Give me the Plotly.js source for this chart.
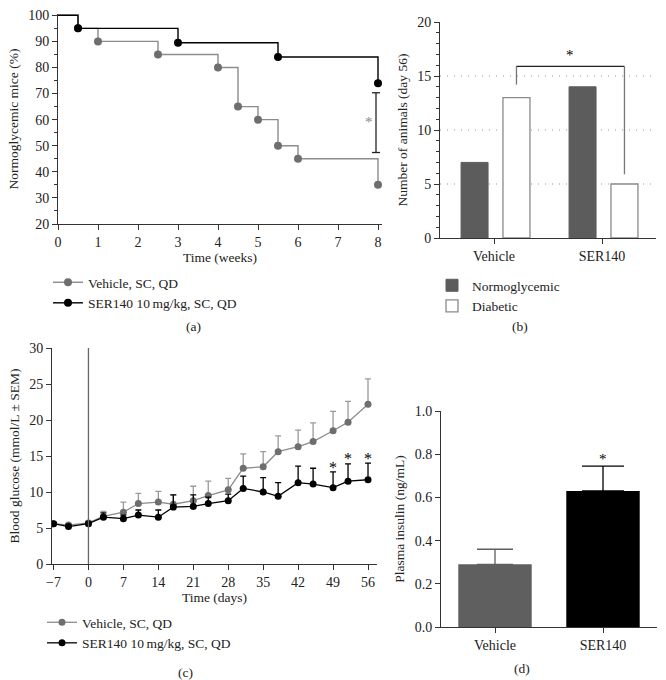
<!DOCTYPE html>
<html>
<head>
<meta charset="utf-8">
<script src="https://cdn.plot.ly/plotly-3.0.1.min.js"></script>
<style>html,body{margin:0;padding:0;background:#fff}</style>
</head>
<body>
<div id="chart" style="width:666px;height:680px"></div>
<script>
// ---- Panel (a): Kaplan-Meier style normoglycemia (listed from week 8 back to week 0) ----
const kmWeeksVehicle = [8, 6, 5.5, 5, 4.5, 4, 2.5, 1, 0.5, 0];
const kmPctVehicle   = [35, 45, 50, 60, 65, 80, 85, 90, 95, 100];
const kmWeeksSER     = [8, 5.5, 3, 0.5, 0];
const kmPctSER       = [74, 84, 89.5, 95, 100];
const kmSigLow = 47.4, kmSigHigh = 70.3;

// ---- Panel (b): number of animals at day 56 ----
const groups = ['Vehicle', 'SER140'];
const normoglycemic = [7, 14];
const diabetic = [13, 5];

// ---- Panel (c): blood glucose ----
const days = [-7, -4, 0, 3, 7, 10, 14, 17, 21, 24, 28, 31, 35, 38, 42, 45, 49, 52, 56];
const vehGlucose = [5.6, 5.4, 5.7, 6.6, 7.2, 8.4, 8.6, 8.3, 8.8, 9.5, 10.3, 13.3, 13.5, 15.6, 16.3, 17.0, 18.5, 19.7, 22.2];
const vehSEM     = [0.2, 0.2, 0.3, 0.7, 1.4, 1.4, 1.5, 1.3, 2.0, 2.0, 1.6, 2.0, 2.1, 2.2, 2.3, 2.6, 2.7, 2.9, 3.5];
const serGlucose = [5.6, 5.2, 5.6, 6.5, 6.3, 6.8, 6.5, 7.9, 8.0, 8.4, 8.8, 10.5, 10.0, 9.4, 11.3, 11.1, 10.6, 11.5, 11.7];
const serSEM     = [0.2, 0.2, 0.2, 0.6, 0.5, 0.7, 1.0, 1.7, 1.6, 0.9, 0.9, 1.7, 2.0, 1.9, 2.3, 2.2, 2.2, 2.4, 2.3];
const sigDays = [49, 52, 56];
const sigStarY = [13.4, 14.7, 14.7];

// ---- Panel (d): plasma insulin ----
const insulin = [0.29, 0.63];
const insulinSEM = [0.07, 0.115];

const seriesNames = ['Vehicle, SC, QD', 'SER140 10\u2009mg/kg, SC, QD'];
const GREY_LINE = '#8c8c8c', GREY_MARK = '#6e6e6e', BLACK = '#000000';
const TXT = '#222222';
const FONT = 'Liberation Serif, Times New Roman, serif';
const W = 666, H = 680;
const px = v => v / W;
const py = v => 1 - v / H;

// hide the marker at the starting point (week 0, 100%): it becomes a flat dash lying on the line
const kmSymbols = arr => arr.map((w, i) => i === arr.length - 1 ? 'line-ew' : 'circle');

const traces = [];

// Panel a
traces.push({
  type: 'scatter', mode: 'lines+markers', x: kmWeeksVehicle, y: kmPctVehicle,
  line: {shape: 'vh', color: GREY_LINE, width: 1.4},
  marker: {color: GREY_MARK, size: 8, symbol: kmSymbols(kmWeeksVehicle), line: {width: 0}},
  name: seriesNames[0], xaxis: 'x', yaxis: 'y', legend: 'legend'
});
traces.push({
  type: 'scatter', mode: 'lines+markers', x: kmWeeksSER, y: kmPctSER,
  line: {shape: 'vh', color: BLACK, width: 1.4},
  marker: {color: BLACK, size: 8, symbol: kmSymbols(kmWeeksSER), line: {width: 0}},
  name: seriesNames[1], xaxis: 'x', yaxis: 'y', legend: 'legend'
});

// Panel b
traces.push({
  type: 'bar', x: groups, y: normoglycemic, name: 'Normoglycemic',
  width: 0.25, offset: -0.305,
  marker: {color: '#5c5c5c', line: {color: '#5c5c5c', width: 1}},
  xaxis: 'x2', yaxis: 'y2', legend: 'legend2'
});
traces.push({
  type: 'bar', x: groups, y: diabetic, name: 'Diabetic',
  width: 0.25, offset: 0.083,
  marker: {color: '#ffffff', line: {color: '#8a8a8a', width: 1.3}},
  xaxis: 'x2', yaxis: 'y2', legend: 'legend2'
});

// Panel c
traces.push({
  type: 'scatter', mode: 'lines+markers', x: days, y: vehGlucose,
  line: {color: GREY_LINE, width: 1.3},
  marker: {color: GREY_MARK, size: 7},
  error_y: {type: 'data', symmetric: false, array: vehSEM, arrayminus: vehSEM.map(() => 0), color: '#9a9a9a', thickness: 1.3, width: 3},
  name: seriesNames[0], xaxis: 'x3', yaxis: 'y3', legend: 'legend3'
});
traces.push({
  type: 'scatter', mode: 'lines+markers', x: days, y: serGlucose,
  line: {color: BLACK, width: 1.3},
  marker: {color: BLACK, size: 7},
  error_y: {type: 'data', symmetric: false, array: serSEM, arrayminus: serSEM.map(() => 0), color: BLACK, thickness: 1.3, width: 3},
  name: seriesNames[1], xaxis: 'x3', yaxis: 'y3', legend: 'legend3'
});

// Panel d
const insulinColors = ['#5f5f5f', '#000000'];
const insulinCapWidths = [18, 21];
groups.forEach((g, i) => {
  traces.push({
    type: 'bar', x: [g], y: [insulin[i]], width: 0.68,
    marker: {color: insulinColors[i]},
    error_y: {type: 'data', symmetric: false, array: [insulinSEM[i]], arrayminus: [0], color: insulinColors[i], thickness: 1.3, width: insulinCapWidths[i]},
    showlegend: false, xaxis: 'x4', yaxis: 'y4'
  });
});

const axisBase = {
  showline: true, linecolor: '#333', linewidth: 1, ticks: 'outside', ticklen: 5,
  tickcolor: '#333', tickwidth: 1, showgrid: false, zeroline: false,
  tickfont: {family: FONT, size: 14, color: TXT}
};
const titleFont = {family: FONT, size: 13.5, color: TXT};
const starFont = (sz, c) => ({family: FONT, size: sz, color: c || '#000'});
const caption = (x, y, t) => ({xref: 'paper', yref: 'paper', x: px(x), y: py(y), xanchor: 'center', yanchor: 'middle', text: t, showarrow: false, font: {family: FONT, size: 13.5, color: TXT}});

const layout = {
  width: W, height: H, margin: {l: 0, r: 0, t: 0, b: 0},
  paper_bgcolor: '#fff', plot_bgcolor: 'rgba(0,0,0,0)',
  font: {family: FONT, size: 13, color: TXT},
  barmode: 'overlay', hovermode: false,
  xaxis: Object.assign({}, axisBase, {
    domain: [px(58), px(382)], range: [0, 8.1], anchor: 'y',
    tickmode: 'linear', tick0: 0, dtick: 1,
    title: {text: 'Time (weeks)', font: titleFont, standoff: 3}
  }),
  yaxis: Object.assign({}, axisBase, {
    domain: [py(224), py(14)], range: [20, 100.5], anchor: 'x',
    tickmode: 'linear', tick0: 20, dtick: 10,
    minor: {dtick: 5, ticks: 'outside', ticklen: 3, tickcolor: '#333'},
    title: {text: 'Normoglycemic mice (%)', font: titleFont, standoff: 6}
  }),
  xaxis2: Object.assign({}, axisBase, {
    domain: [px(440), px(656)], range: [-0.5, 1.5], anchor: 'y2', type: 'category'
  }),
  yaxis2: Object.assign({}, axisBase, {
    domain: [py(238), py(22)], range: [0, 20], anchor: 'x2',
    tickmode: 'linear', tick0: 0, dtick: 5,
    minor: {dtick: 1, ticks: 'outside', ticklen: 3, tickcolor: '#333'},
    title: {text: 'Number of animals (day 56)', font: titleFont, standoff: 6}
  }),
  xaxis3: Object.assign({}, axisBase, {
    domain: [px(52), px(377)], range: [-7.3, 57.8], anchor: 'y3',
    tickmode: 'linear', tick0: -7, dtick: 7, tickformat: 'd',
    title: {text: 'Time (days)', font: titleFont, standoff: 3}
  }),
  yaxis3: Object.assign({}, axisBase, {
    domain: [py(564), py(348)], range: [0, 30], anchor: 'x3',
    tickmode: 'linear', tick0: 0, dtick: 5,
    title: {text: 'Blood glucose (mmol/L \u00b1 SEM)', font: titleFont, standoff: 6}
  }),
  xaxis4: Object.assign({}, axisBase, {
    domain: [px(441), px(657)], range: [-0.5, 1.5], anchor: 'y4', type: 'category'
  }),
  yaxis4: Object.assign({}, axisBase, {
    domain: [py(627), py(411)], range: [0, 1.0], anchor: 'x4',
    tickmode: 'linear', tick0: 0, dtick: 0.2, tickformat: '.1f',
    title: {text: 'Plasma insulin (ng/mL)', font: titleFont, standoff: 6}
  }),
  legend: {x: px(48), y: py(267), xanchor: 'left', yanchor: 'top', bgcolor: 'rgba(0,0,0,0)', font: {family: FONT, size: 13.5, color: TXT}},
  legend2: {x: px(432), y: py(270), xanchor: 'left', yanchor: 'top', bgcolor: 'rgba(0,0,0,0)', font: {family: FONT, size: 13.5, color: TXT}},
  legend3: {x: px(42), y: py(607), xanchor: 'left', yanchor: 'top', bgcolor: 'rgba(0,0,0,0)', font: {family: FONT, size: 13.5, color: TXT}},
  shapes: [
    // panel a significance bracket
    {type: 'line', xref: 'x', yref: 'y', x0: 7.95, x1: 7.95, y0: kmSigLow, y1: kmSigHigh, line: {color: '#222', width: 1.3}},
    {type: 'line', xref: 'x', yref: 'y', x0: 7.85, x1: 8.05, y0: kmSigLow, y1: kmSigLow, line: {color: '#222', width: 1.3}},
    {type: 'line', xref: 'x', yref: 'y', x0: 7.85, x1: 8.05, y0: kmSigHigh, y1: kmSigHigh, line: {color: '#222', width: 1.3}},
    // panel b dotted gridlines
    ...[5, 10, 15].map(v => ({type: 'line', xref: 'x2 domain', yref: 'y2', x0: 0, x1: 1, y0: v, y1: v, layer: 'below', line: {color: '#999', width: 1.2, dash: '1px,6px'}})),
    // panel b bracket
    {type: 'line', xref: 'x2', yref: 'y2', x0: 0.208, x1: 0.208, y0: 14.2, y1: 15.9, line: {color: '#777', width: 1.3}},
    {type: 'line', xref: 'x2', yref: 'y2', x0: 0.208, x1: 1.208, y0: 15.9, y1: 15.9, line: {color: '#222', width: 1.3}},
    {type: 'line', xref: 'x2', yref: 'y2', x0: 1.208, x1: 1.208, y0: 15.9, y1: 5.9, line: {color: '#777', width: 1.3}},
    // panel c vertical line at day 0
    {type: 'line', xref: 'x3', yref: 'y3', x0: 0, x1: 0, y0: 0, y1: 30, line: {color: '#666', width: 1.3}}
  ],
  annotations: [
    {xref: 'x', yref: 'y', x: 7.78, y: 59, text: '*', showarrow: false, font: starFont(15, '#888')},
    {xref: 'x2', yref: 'y2', x: 0.708, y: 16.9, text: '*', showarrow: false, font: starFont(15)},
    ...sigDays.map((d, i) => ({xref: 'x3', yref: 'y3', x: d, y: sigStarY[i], text: '*', showarrow: false, font: starFont(16)})),
    {xref: 'x4', yref: 'y4', x: 1, y: 0.78, text: '*', showarrow: false, font: starFont(15)},
    caption(193, 326, '(a)'),
    caption(520, 326, '(b)'),
    caption(186, 672, '(c)'),
    caption(522, 668, '(d)')
  ]
};

Plotly.newPlot('chart', traces, layout, {staticPlot: true, displayModeBar: false});
</script>
</body>
</html>
